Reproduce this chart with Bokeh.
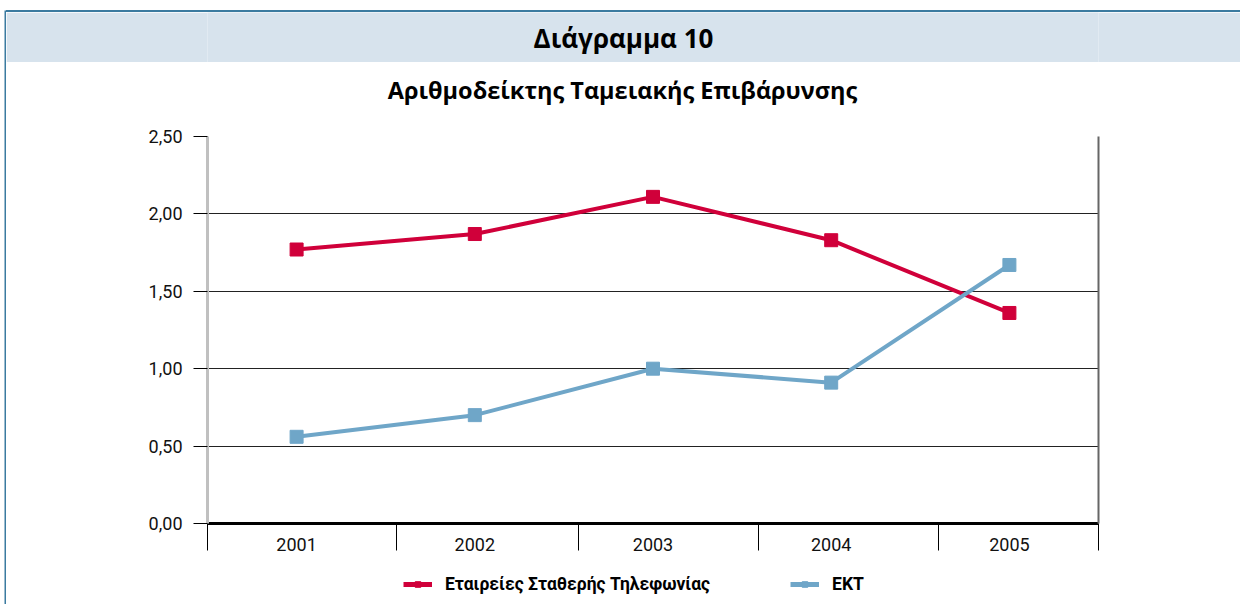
from bokeh.plotting import figure
from bokeh.models import (Range1d, FixedTicker, LinearAxis, Legend, LegendItem,
                          ColumnDataSource, Spacer)
from bokeh.layouts import column, row
from bokeh.embed import file_html
from bokeh.resources import INLINE
from bokeh.core.properties import value

# ---- data ----
years = ["2001", "2002", "2003", "2004", "2005"]
fixed_telephony = [1.77, 1.87, 2.11, 1.83, 1.36]
ekt = [0.56, 0.70, 1.00, 0.91, 1.67]
y_ticks = [0.0, 0.5, 1.0, 1.5, 2.0, 2.5]
y_tick_labels = ["0,00", "0,50", "1,00", "1,50", "2,00", "2,50"]
series_names = ["Εταιρείες Σταθερής Τηλεφωνίας", "ΕΚΤ"]
header_text = "Διάγραμμα 10"
subtitle_text = "Αριθμοδείκτης Ταμειακής Επιβάρυνσης"

RED = "#d0003a"
BLUE = "#6fa6c8"
HEADER_BG = "#d7e3ed"
PANEL_BORDER = "#3b7ba0"
COND = "Roboto"
TITLE_FONT = "Open Sans"

xs = list(range(1, len(years) + 1))

# ---- layout geometry (page pixels) ----
STRIPE_W = 6
CW = 1234                       # content column width (page x 6..1240)
BORDER_L, BORDER_R = 201, 142   # shared borders -> frame at page x 207..1098
FL, FR = STRIPE_W + BORDER_L, STRIPE_W + CW - BORDER_R
TOP_GAP, TOP_LINE, BAND_H, SUB_H, MAIN_H, LEG_H = 10, 2, 50, 50, 460, 32
TOTAL_H = TOP_GAP + TOP_LINE + BAND_H + SUB_H + MAIN_H + LEG_H
BAND_Y0 = TOP_GAP + TOP_LINE
SUB_Y0 = BAND_Y0 + BAND_H
LEG_Y0 = SUB_Y0 + SUB_H + MAIN_H


def strip(height, y0, fill):
    """A full-width strip whose data space is page pixels (y pointing down)."""
    f = figure(width=CW, height=height, x_range=Range1d(FL, FR),
               y_range=Range1d(y0 + height, y0),
               toolbar_location=None, output_backend="svg",
               x_axis_location=None, y_axis_location=None, outline_line_color=None,
               min_border_left=BORDER_L, min_border_right=BORDER_R,
               min_border_top=0, min_border_bottom=0,
               background_fill_color=fill, border_fill_color=fill)
    f.grid.visible = False
    return f


# ---- left panel border ----
stripe = figure(width=STRIPE_W, height=TOTAL_H, x_range=Range1d(0, 1), y_range=Range1d(0, 1),
                toolbar_location=None, output_backend="svg",
                x_axis_location=None, y_axis_location=None, outline_line_color=None,
                min_border_left=4, min_border_right=0, min_border_top=TOP_GAP,
                min_border_bottom=0, background_fill_color=PANEL_BORDER,
                border_fill_color="white")
stripe.grid.visible = False

# ---- header: blue top rule + light blue band ----
top_gap = Spacer(width=CW, height=TOP_GAP)
top_rule = Spacer(width=CW, height=TOP_LINE, styles={"background-color": PANEL_BORDER})

band = strip(BAND_H, BAND_Y0, HEADER_BG)
band.text(x=[623], y=[37], text=[header_text], text_align="center", text_baseline="middle",
          text_font=value(TITLE_FONT), text_font_style="bold", text_font_size="26px",
          text_color="black")

sub = strip(SUB_H, SUB_Y0, "white")
sub.text(x=[622], y=[89], text=[subtitle_text], text_align="center", text_baseline="middle",
         text_font=value(TITLE_FONT), text_font_style="bold", text_font_size="23.5px",
         text_color="black")

# ---- main chart ----
p = figure(width=CW, height=MAIN_H, x_range=Range1d(0.5, 5.5), y_range=Range1d(0, 2.5),
           toolbar_location=None, output_backend="svg",
           min_border_left=BORDER_L, min_border_right=BORDER_R,
           min_border_top=24, min_border_bottom=49, outline_line_color=None)

ya = p.yaxis[0]
ya.ticker = FixedTicker(ticks=y_ticks)
ya.major_label_overrides = {t: l for t, l in zip(y_ticks, y_tick_labels)}
ya.major_tick_out = 14
ya.major_tick_in = 0
ya.minor_tick_out = 0
ya.minor_tick_in = 0
ya.major_tick_line_color = "black"
ya.axis_line_color = "#c0c0c0"
ya.axis_line_width = 3
ya.major_label_standoff = 11
ya.major_label_text_font = COND
ya.major_label_text_font_size = "18px"
ya.major_label_text_color = "#111111"

xa = p.xaxis[0]
xa.ticker = FixedTicker(ticks=xs, minor_ticks=[0.5, 1.56, 2.58, 3.59, 4.6, 5.5])
xa.major_label_overrides = {x: y for x, y in zip(xs, years)}
xa.major_tick_out = 0
xa.major_tick_in = 0
xa.minor_tick_out = 27
xa.minor_tick_in = 0
xa.minor_tick_line_color = "black"
xa.axis_line_color = "black"
xa.axis_line_width = 3
xa.major_label_standoff = -13
xa.major_label_text_font = COND
xa.major_label_text_font_size = "18px"
xa.major_label_text_color = "#111111"

ra = LinearAxis(ticker=FixedTicker(ticks=[]), axis_line_color="#666666", axis_line_width=2,
                major_label_text_font_size="0px", major_tick_out=0, major_tick_in=0,
                minor_tick_out=0, minor_tick_in=0)
p.add_layout(ra, "right")

p.xgrid.grid_line_color = None
p.ygrid.ticker = FixedTicker(ticks=y_ticks)
p.ygrid.grid_line_color = "#222222"
p.ygrid.grid_line_width = 1

src = ColumnDataSource(dict(x=xs, tel=fixed_telephony, ekt=ekt))
p.line("x", "tel", source=src, line_color=RED, line_width=4)
p.scatter("x", "tel", source=src, marker="square", size=13, fill_color=RED, line_color=RED)
p.line("x", "ekt", source=src, line_color=BLUE, line_width=4)
p.scatter("x", "ekt", source=src, marker="square", size=13, fill_color=BLUE, line_color=BLUE)

# ---- legend strip (its series renderers fall outside this strip's ranges) ----
leg = strip(LEG_H, LEG_Y0, "white")
items = []
for name, col, color in zip(series_names, ["tel", "ekt"], [RED, BLUE]):
    lr = leg.line("x", col, source=src, line_color=color, line_width=5)
    sr = leg.scatter("x", col, source=src, marker="square", size=13,
                     fill_color=color, line_color=color)
    items.append(LegendItem(label=name, renderers=[lr, sr]))
legend = Legend(items=items, orientation="horizontal", location=(403 - FL, 10),
                border_line_color=None, background_fill_alpha=0,
                label_text_font=COND, label_text_font_style="bold",
                label_text_font_size="17.5px", label_text_color="black",
                glyph_width=29, glyph_height=14,
                label_standoff=13, spacing=80, padding=0, margin=0)
leg.add_layout(legend, "center")

layout = row(stripe, column(top_gap, top_rule, band, sub, p, leg, spacing=0), spacing=0)

open("out.html", "w").write(file_html(layout, INLINE))
